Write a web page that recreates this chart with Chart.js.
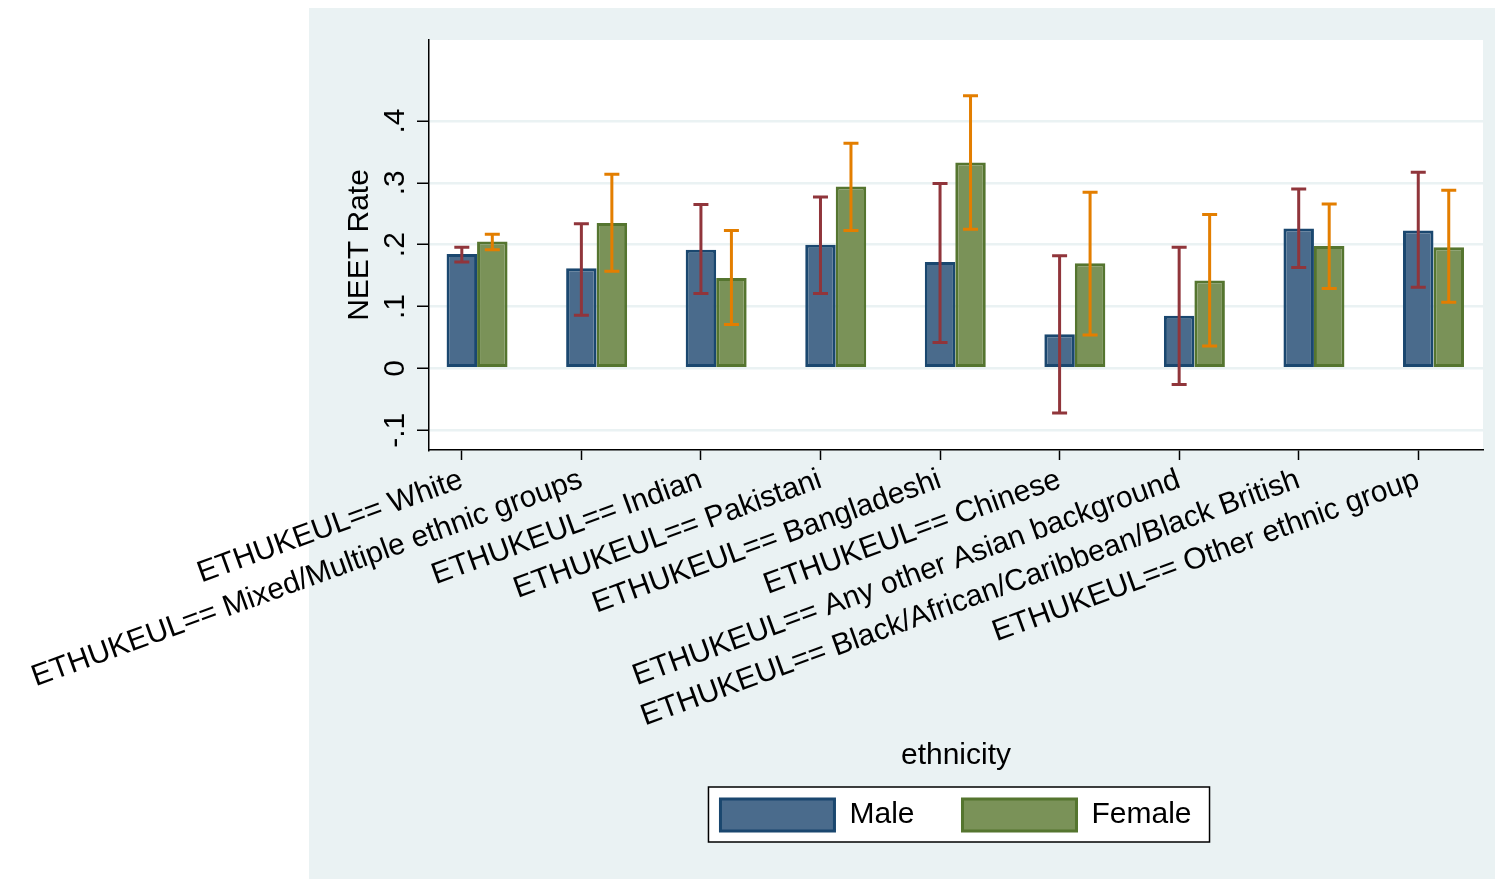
<!DOCTYPE html>
<html>
<head>
<meta charset="utf-8">
<script src="https://cdn.jsdelivr.net/npm/chart.js@4.4.0/dist/chart.umd.min.js"></script>
<style>
  html, body { margin: 0; padding: 0; background: #fff; }
  canvas { display: block; }
</style>
</head>
<body>
<canvas id="neetChart" width="1495" height="879"></canvas>
<script>
// Data
const categories = [
    "ETHUKEUL== White",
    "ETHUKEUL== Mixed/Multiple ethnic groups",
    "ETHUKEUL== Indian",
    "ETHUKEUL== Pakistani",
    "ETHUKEUL== Bangladeshi",
    "ETHUKEUL== Chinese",
    "ETHUKEUL== Any other Asian background",
    "ETHUKEUL== Black/African/Caribbean/Black British",
    "ETHUKEUL== Other ethnic group"
];
const maleRate   = [0.185, 0.162, 0.192, 0.200, 0.172, 0.055, 0.085, 0.226, 0.223];
const maleLow    = [0.172, 0.086, 0.121, 0.121, 0.042, -0.072, -0.026, 0.163, 0.131];
const maleHigh   = [0.196, 0.234, 0.265, 0.277, 0.299, 0.182, 0.196, 0.290, 0.317];
const femaleRate = [0.205, 0.235, 0.146, 0.294, 0.333, 0.170, 0.142, 0.198, 0.196];
const femaleLow  = [0.192, 0.157, 0.071, 0.223, 0.225, 0.054, 0.036, 0.129, 0.107];
const femaleHigh = [0.217, 0.314, 0.223, 0.364, 0.441, 0.285, 0.249, 0.266, 0.288];
const yTickValues = [-0.1, 0, 0.1, 0.2, 0.3, 0.4];
const yTickLabels = ["-.1", "0", ".1", ".2", ".3", ".4"];
const seriesNames = ["Male", "Female"];

const groupShare = 0.51;   // part of each slot taken by the bar pair
const FONT = "'Liberation Sans', Arial, Helvetica, sans-serif";

Chart.defaults.font.family = FONT;
Chart.defaults.color = "#000";

// graph region, white plot region and the legend frame
const backdrop = {
    id: "backdrop",
    beforeDraw(chart) {
        const ctx = chart.ctx;
        const a = chart.chartArea;
        ctx.save();
        ctx.fillStyle = "#EAF2F3";
        ctx.fillRect(309, 8, chart.width - 309, chart.height - 8);
        ctx.fillStyle = "#fff";
        ctx.fillRect(a.left, a.top, a.right - a.left, a.bottom - a.top);

        const boxes = chart.legend && chart.legend.legendHitBoxes;
        if (boxes && boxes.length) {
            const l = Math.min(...boxes.map(b => b.left)) - 12;
            const r = Math.max(...boxes.map(b => b.left + b.width)) + 18;
            const t = boxes[0].top - 12;
            const b = boxes[0].top + boxes[0].height + 11;
            ctx.fillRect(l, t, r - l, b - t);
            ctx.strokeStyle = "#000";
            ctx.lineWidth = 1.5;
            ctx.strokeRect(l, t, r - l, b - t);
        }
        ctx.restore();
    }
};

// confidence interval caps
const errorBars = {
    id: "errorBars",
    afterDatasetsDraw(chart) {
        const ctx = chart.ctx;
        const y = chart.scales.y;
        chart.data.datasets.forEach((ds, d) => {
            const meta = chart.getDatasetMeta(d);
            ctx.save();
            ctx.strokeStyle = ds.ciColor;
            ctx.lineWidth = 3;
            meta.data.forEach((bar, i) => {
                const top = y.getPixelForValue(ds.ciHigh[i]);
                const bot = y.getPixelForValue(ds.ciLow[i]);
                ctx.beginPath();
                ctx.moveTo(bar.x, top);
                ctx.lineTo(bar.x, bot);
                ctx.moveTo(bar.x - 7.5, top);
                ctx.lineTo(bar.x + 7.5, top);
                ctx.moveTo(bar.x - 7.5, bot);
                ctx.lineTo(bar.x + 7.5, bot);
                ctx.stroke();
            });
            ctx.restore();
        });
    }
};

// vertical y tick labels, Stata style
const yLabels = {
    id: "yLabels",
    afterDraw(chart) {
        const ctx = chart.ctx;
        const y = chart.scales.y;
        ctx.save();
        ctx.fillStyle = "#000";
        ctx.font = "30px " + FONT;
        ctx.textAlign = "center";
        ctx.textBaseline = "alphabetic";
        yTickValues.forEach((v, i) => {
            ctx.save();
            ctx.translate(404, y.getPixelForValue(v));
            ctx.rotate(-Math.PI / 2);
            ctx.fillText(yTickLabels[i], 0, 0);
            ctx.restore();
        });
        ctx.restore();
    }
};

const ctx = document.getElementById("neetChart").getContext("2d");
new Chart(ctx, {
    type: "bar",
    data: {
        datasets: [
            {
                label: seriesNames[0],
                data: maleRate.map((v, i) => ({ x: i + 1, y: v })),
                backgroundColor: "#4A6B8C",
                borderColor: "#1A476F",
                borderWidth: 3,
                borderSkipped: false,
                ciLow: maleLow,
                ciHigh: maleHigh,
                ciColor: "#90353B"
            },
            {
                label: seriesNames[1],
                data: femaleRate.map((v, i) => ({ x: i + 1, y: v })),
                backgroundColor: "#7A9258",
                borderColor: "#55752F",
                borderWidth: 3,
                borderSkipped: false,
                ciLow: femaleLow,
                ciHigh: femaleHigh,
                ciColor: "#E37E00"
            }
        ]
    },
    options: {
        responsive: false,
        animation: false,
        devicePixelRatio: 1,
        categoryPercentage: groupShare,
        barPercentage: 1,
        layout: { padding: { top: 40, right: 12, bottom: 38, left: 0 } },
        plugins: {
            tooltip: { enabled: false },
            legend: {
                position: "bottom",
                fullSize: false,
                labels: {
                    boxWidth: 114,
                    boxHeight: 32,
                    padding: 48,
                    color: "#000",
                    font: { size: 30 }
                }
            }
        },
        scales: {
            x: {
                type: "linear",
                min: 0.598,
                max: 9.414,
                offset: false,
                afterBuildTicks(scale) {
                    scale.ticks = categories.map((c, i) => ({ value: i + 1 - groupShare / 4 }));
                },
                afterFit(scale) { scale.height = 301; },
                grid: {
                    offset: false,
                    drawOnChartArea: false,
                    tickColor: "#000",
                    tickLength: 10,
                    tickWidth: 1.5
                },
                border: { color: "#000", width: 1.5 },
                ticks: {
                    autoSkip: false,
                    minRotation: 20,
                    maxRotation: 20,
                    padding: 2,
                    color: "#000",
                    font: { size: 30 },
                    callback: (v, i) => categories[i]
                },
                title: {
                    display: true,
                    text: "ethnicity",
                    color: "#000",
                    font: { size: 30 },
                    padding: { top: 0, bottom: -23 }
                }
            },
            y: {
                min: -0.132,
                max: 0.531,
                afterBuildTicks(scale) {
                    scale.ticks = yTickValues.map(v => ({ value: v }));
                },
                afterFit(scale) { scale.width = 429; },
                grid: {
                    color: "#EAF2F3",
                    lineWidth: 2.5,
                    tickColor: "#000",
                    tickLength: 12,
                    tickWidth: 1.5
                },
                border: { color: "#000", width: 1.5 },
                ticks: { display: false },
                title: {
                    display: true,
                    text: "NEET Rate",
                    color: "#000",
                    font: { size: 30 },
                    padding: { top: 342, bottom: 0 }
                }
            }
        }
    },
    plugins: [backdrop, errorBars, yLabels]
});
</script>
</body>
</html>
